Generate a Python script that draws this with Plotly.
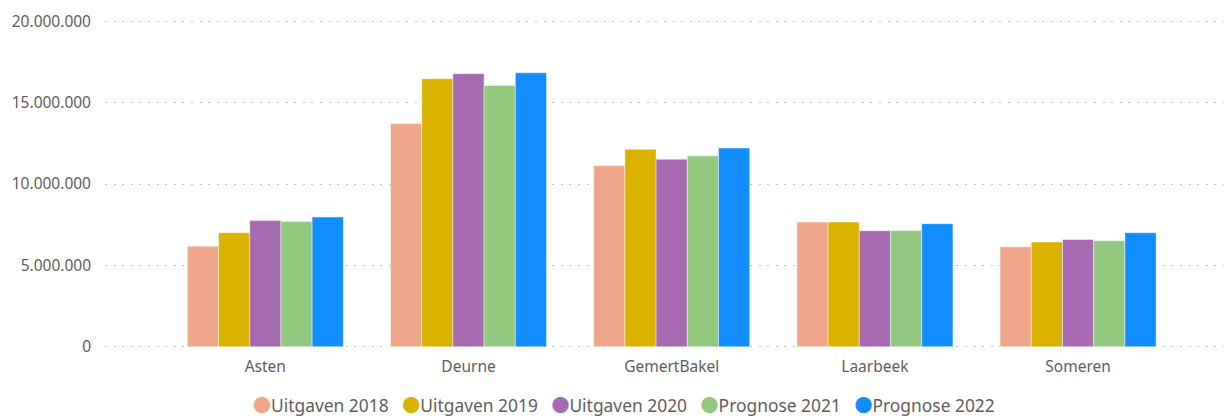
import plotly.graph_objects as go

categories = ["Asten", "Deurne", "GemertBakel", "Laarbeek", "Someren"]
series_names = ["Uitgaven 2018", "Uitgaven 2019", "Uitgaven 2020", "Prognose 2021", "Prognose 2022"]
uitgaven_2018 = [6180000, 13720000, 11130000, 7660000, 6140000]
uitgaven_2019 = [7010000, 16470000, 12130000, 7660000, 6440000]
uitgaven_2020 = [7750000, 16780000, 11520000, 7130000, 6590000]
prognose_2021 = [7690000, 16060000, 11730000, 7150000, 6520000]
prognose_2022 = [7970000, 16840000, 12210000, 7560000, 7010000]
colors = ["#EFA789", "#D9B300", "#A66AB0", "#93C97E", "#118DFF"]
y_ticks = [0, 5000000, 10000000, 15000000, 20000000]

values = [uitgaven_2018, uitgaven_2019, uitgaven_2020, prognose_2021, prognose_2022]

FONT = "Segoe UI, Noto Sans, Open Sans, sans-serif"
TEXT = "#605E5C"

fig = go.Figure()
for name, vals, col in zip(series_names, values, colors):
    fig.add_trace(go.Bar(
        x=categories, y=vals, name=name, showlegend=False,
        marker=dict(color=col, line=dict(color="rgba(255,255,255,0.45)", width=1)),
    ))

legend_text = "\u00a0\u00a0\u00a0".join(
    f'<span style="color:{c};font-family:Noto Sans CJK JP;font-size:18px">\u25cf</span>{n}'
    for n, c in zip(series_names, colors)
)
fig.add_annotation(
    text=legend_text, xref="paper", yref="paper", x=0.4638, y=-0.162,
    xanchor="center", yanchor="middle", showarrow=False,
    font=dict(family=FONT, size=17.4, color=TEXT),
)

fig.update_layout(
    width=1224, height=416,
    margin=dict(l=105, r=0, t=18.4, b=65.5, autoexpand=False),
    paper_bgcolor="white", plot_bgcolor="white",
    separators=",.",
    barmode="group", bargap=0.232, bargroupgap=0,
    font=dict(family=FONT, color=TEXT),
    showlegend=False,
    xaxis=dict(
        type="category", range=[-0.789, 4.718], automargin=False,
        showgrid=False, zeroline=False, showline=False,
        tickfont=dict(size=15.5, color=TEXT), ticks="", ticklabelstandoff=5,
    ),
    yaxis=dict(
        range=[-200000, 20200000], tickvals=y_ticks, tickformat=",d", automargin=False,
        showgrid=True, gridcolor="#C8C6C4", griddash="2px,6.6px", gridwidth=1.2,
        zeroline=False, showline=False, ticks="", ticklabelstandoff=13,
        tickfont=dict(size=15.5, color=TEXT),
    ),
)

fig.write_html(
    "out.html",
    config={"displayModeBar": False},
    post_script="document.body.style.margin='0';document.body.style.overflow='hidden';",
)
